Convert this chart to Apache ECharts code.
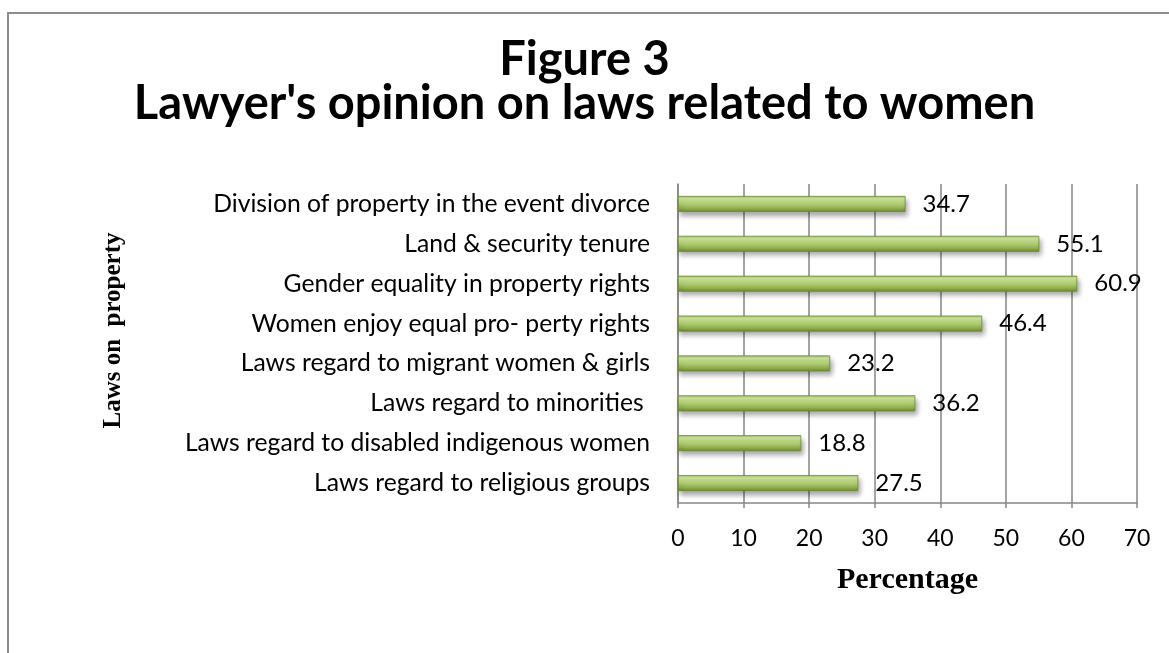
<!DOCTYPE html>
<html>
<head>
<meta charset="utf-8">
<script src="https://cdn.jsdelivr.net/npm/echarts@6/dist/echarts.min.js"></script>
<style>
html,body{margin:0;padding:0;background:#fff;}
#chart{width:1169px;height:653px;}
</style>
</head>
<body>
<div id="chart"></div>
<script>
const categories = [
  "Laws regard to religious groups",
  "Laws regard to disabled indigenous women",
  "Laws regard to minorities ",
  "Laws regard to migrant women & girls",
  "Women enjoy equal pro- perty rights",
  "Gender equality in property rights",
  "Land & security tenure",
  "Division of property in the event divorce"
];
const values = [27.5, 18.8, 36.2, 23.2, 46.4, 60.9, 55.1, 34.7];
const xTicks = [0, 10, 20, 30, 40, 50, 60, 70];
const titleLines = ["Figure 3", "Lawyer's opinion on laws related to women"];

const chart = echarts.init(document.getElementById('chart'), null, {renderer: 'canvas'});
const barGrad = new echarts.graphic.LinearGradient(0, 0, 0, 1, [
  {offset: 0, color: '#9fc25f'},
  {offset: 0.18, color: '#cfe79d'},
  {offset: 0.5, color: '#b3d174'},
  {offset: 0.8, color: '#8cab4c'},
  {offset: 1, color: '#6a8532'}
]);
chart.setOption({
  animation: false,
  graphic: [{
    type: 'rect',
    shape: {x: 8, y: 13, width: 1200, height: 700},
    style: {fill: 'none', stroke: '#8c8c8c', lineWidth: 2},
    silent: true
  }],
  title: {
    text: titleLines.join('\n'),
    left: 'center',
    top: 33,
    textStyle: {fontFamily: 'Lato', fontWeight: 'bold', fontSize: 47, lineHeight: 44, color: '#000'}
  },
  grid: {left: 678, width: 459, top: 184, height: 319, containLabel: false},
  xAxis: {
    type: 'value',
    min: 0, max: 70, interval: 10,
    name: 'Percentage',
    nameLocation: 'middle',
    nameGap: 62,
    nameTextStyle: {fontFamily: 'Liberation Serif', fontWeight: 'bold', fontSize: 30, color: '#000'},
    axisLine: {show: true, lineStyle: {color: '#868686', width: 1.5}},
    axisTick: {show: true, length: 5, lineStyle: {color: '#868686', width: 1.5}},
    axisLabel: {
      fontFamily: 'Lato', fontSize: 23, color: '#000', margin: 24,
      formatter: v => xTicks.includes(v) ? String(v) : ''
    },
    splitLine: {show: true, lineStyle: {color: '#868686', width: 1.5}}
  },
  yAxis: {
    type: 'category',
    data: categories,
    name: 'Laws on  property',
    nameLocation: 'middle',
    nameGap: 552,
    nameRotate: 90,
    nameTextStyle: {fontFamily: 'Liberation Serif', fontWeight: 'bold', fontSize: 25, color: '#000', padding: [0, 0, 0, 26]},
    axisLine: {show: true, lineStyle: {color: '#868686', width: 1.5}},
    axisTick: {show: false},
    axisLabel: {fontFamily: 'Lato', fontSize: 24.7, color: '#000', margin: 28}
  },
  series: [{
    type: 'bar',
    data: values,
    barWidth: 16,
    itemStyle: {
      color: barGrad,
      borderColor: '#6f8b36',
      borderWidth: 0.8,
      shadowColor: 'rgba(0,0,0,0.35)',
      shadowBlur: 5,
      shadowOffsetX: 2,
      shadowOffsetY: 4
    },
    label: {
      show: true,
      position: 'right',
      distance: 17,
      fontFamily: 'Lato',
      fontSize: 24,
      color: '#000',
      formatter: p => p.value.toFixed(1)
    }
  }]
});
</script>
</body>
</html>
